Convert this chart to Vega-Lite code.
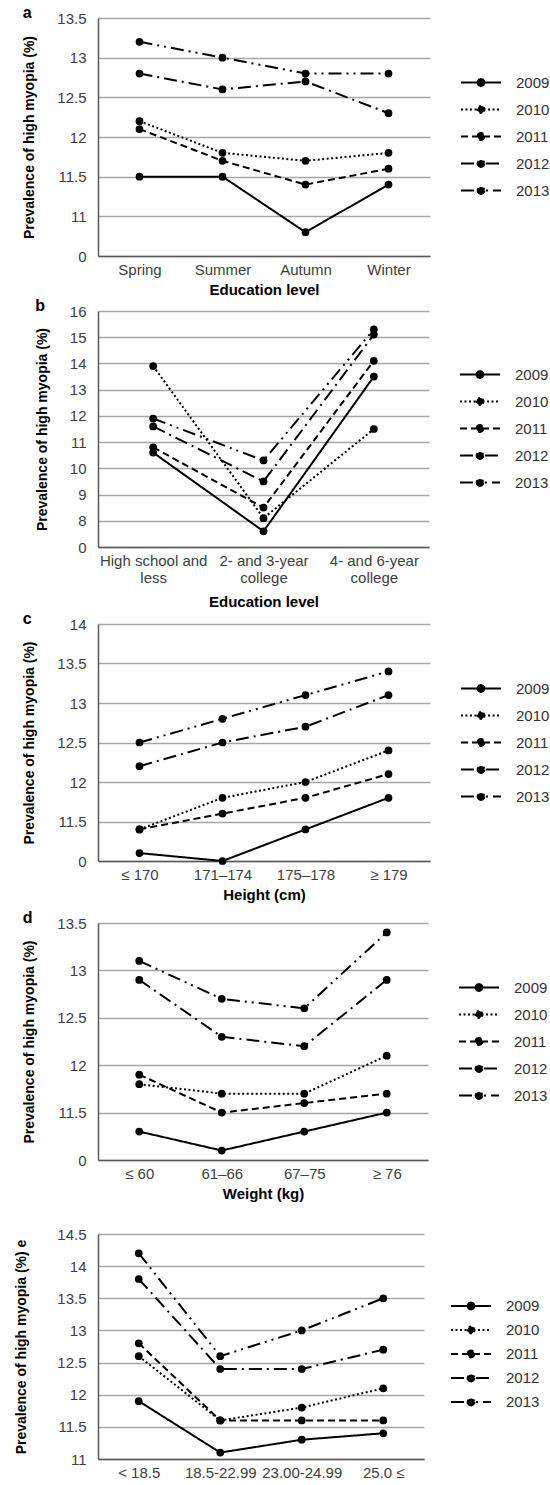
{
  "$schema": "https://vega.github.io/schema/vega-lite/v6.json",
  "padding": {"left": 14, "top": 5, "right": 5, "bottom": 0},
  "spacing": 26,
  "background": "white",
  "datasets": {
    "a": [
      {"cat": "Spring", "year": "2009", "value": 11.5},
      {"cat": "Spring", "year": "2010", "value": 12.2},
      {"cat": "Spring", "year": "2011", "value": 12.1},
      {"cat": "Spring", "year": "2012", "value": 12.8},
      {"cat": "Spring", "year": "2013", "value": 13.2},
      {"cat": "Summer", "year": "2009", "value": 11.5},
      {"cat": "Summer", "year": "2010", "value": 11.8},
      {"cat": "Summer", "year": "2011", "value": 11.7},
      {"cat": "Summer", "year": "2012", "value": 12.6},
      {"cat": "Summer", "year": "2013", "value": 13.0},
      {"cat": "Autumn", "year": "2009", "value": 10.8},
      {"cat": "Autumn", "year": "2010", "value": 11.7},
      {"cat": "Autumn", "year": "2011", "value": 11.4},
      {"cat": "Autumn", "year": "2012", "value": 12.7},
      {"cat": "Autumn", "year": "2013", "value": 12.8},
      {"cat": "Winter", "year": "2009", "value": 11.4},
      {"cat": "Winter", "year": "2010", "value": 11.8},
      {"cat": "Winter", "year": "2011", "value": 11.6},
      {"cat": "Winter", "year": "2012", "value": 12.3},
      {"cat": "Winter", "year": "2013", "value": 12.8}
    ],
    "b": [
      {"cat": "High school and less", "year": "2009", "value": 10.6},
      {"cat": "High school and less", "year": "2010", "value": 13.9},
      {"cat": "High school and less", "year": "2011", "value": 10.8},
      {"cat": "High school and less", "year": "2012", "value": 11.6},
      {"cat": "High school and less", "year": "2013", "value": 11.9},
      {"cat": "2- and 3-year college", "year": "2009", "value": 7.6},
      {"cat": "2- and 3-year college", "year": "2010", "value": 8.1},
      {"cat": "2- and 3-year college", "year": "2011", "value": 8.5},
      {"cat": "2- and 3-year college", "year": "2012", "value": 9.5},
      {"cat": "2- and 3-year college", "year": "2013", "value": 10.3},
      {"cat": "4- and 6-year college", "year": "2009", "value": 13.5},
      {"cat": "4- and 6-year college", "year": "2010", "value": 11.5},
      {"cat": "4- and 6-year college", "year": "2011", "value": 14.1},
      {"cat": "4- and 6-year college", "year": "2012", "value": 15.1},
      {"cat": "4- and 6-year college", "year": "2013", "value": 15.3}
    ],
    "c": [
      {"cat": "≤ 170", "year": "2009", "value": 11.1},
      {"cat": "≤ 170", "year": "2010", "value": 11.4},
      {"cat": "≤ 170", "year": "2011", "value": 11.4},
      {"cat": "≤ 170", "year": "2012", "value": 12.2},
      {"cat": "≤ 170", "year": "2013", "value": 12.5},
      {"cat": "171–174", "year": "2009", "value": 11.0},
      {"cat": "171–174", "year": "2010", "value": 11.8},
      {"cat": "171–174", "year": "2011", "value": 11.6},
      {"cat": "171–174", "year": "2012", "value": 12.5},
      {"cat": "171–174", "year": "2013", "value": 12.8},
      {"cat": "175–178", "year": "2009", "value": 11.4},
      {"cat": "175–178", "year": "2010", "value": 12.0},
      {"cat": "175–178", "year": "2011", "value": 11.8},
      {"cat": "175–178", "year": "2012", "value": 12.7},
      {"cat": "175–178", "year": "2013", "value": 13.1},
      {"cat": "≥ 179", "year": "2009", "value": 11.8},
      {"cat": "≥ 179", "year": "2010", "value": 12.4},
      {"cat": "≥ 179", "year": "2011", "value": 12.1},
      {"cat": "≥ 179", "year": "2012", "value": 13.1},
      {"cat": "≥ 179", "year": "2013", "value": 13.4}
    ],
    "d": [
      {"cat": "≤ 60", "year": "2009", "value": 11.3},
      {"cat": "≤ 60", "year": "2010", "value": 11.8},
      {"cat": "≤ 60", "year": "2011", "value": 11.9},
      {"cat": "≤ 60", "year": "2012", "value": 12.9},
      {"cat": "≤ 60", "year": "2013", "value": 13.1},
      {"cat": "61–66", "year": "2009", "value": 11.1},
      {"cat": "61–66", "year": "2010", "value": 11.7},
      {"cat": "61–66", "year": "2011", "value": 11.5},
      {"cat": "61–66", "year": "2012", "value": 12.3},
      {"cat": "61–66", "year": "2013", "value": 12.7},
      {"cat": "67–75", "year": "2009", "value": 11.3},
      {"cat": "67–75", "year": "2010", "value": 11.7},
      {"cat": "67–75", "year": "2011", "value": 11.6},
      {"cat": "67–75", "year": "2012", "value": 12.2},
      {"cat": "67–75", "year": "2013", "value": 12.6},
      {"cat": "≥ 76", "year": "2009", "value": 11.5},
      {"cat": "≥ 76", "year": "2010", "value": 12.1},
      {"cat": "≥ 76", "year": "2011", "value": 11.7},
      {"cat": "≥ 76", "year": "2012", "value": 12.9},
      {"cat": "≥ 76", "year": "2013", "value": 13.4}
    ],
    "e": [
      {"cat": "< 18.5", "year": "2009", "value": 11.9},
      {"cat": "< 18.5", "year": "2010", "value": 12.6},
      {"cat": "< 18.5", "year": "2011", "value": 12.8},
      {"cat": "< 18.5", "year": "2012", "value": 13.8},
      {"cat": "< 18.5", "year": "2013", "value": 14.2},
      {"cat": "18.5-22.99", "year": "2009", "value": 11.1},
      {"cat": "18.5-22.99", "year": "2010", "value": 11.6},
      {"cat": "18.5-22.99", "year": "2011", "value": 11.6},
      {"cat": "18.5-22.99", "year": "2012", "value": 12.4},
      {"cat": "18.5-22.99", "year": "2013", "value": 12.6},
      {"cat": "23.00-24.99", "year": "2009", "value": 11.3},
      {"cat": "23.00-24.99", "year": "2010", "value": 11.8},
      {"cat": "23.00-24.99", "year": "2011", "value": 11.6},
      {"cat": "23.00-24.99", "year": "2012", "value": 12.4},
      {"cat": "23.00-24.99", "year": "2013", "value": 13.0},
      {"cat": "25.0 ≤", "year": "2009", "value": 11.4},
      {"cat": "25.0 ≤", "year": "2010", "value": 12.1},
      {"cat": "25.0 ≤", "year": "2011", "value": 11.6},
      {"cat": "25.0 ≤", "year": "2012", "value": 12.7},
      {"cat": "25.0 ≤", "year": "2013", "value": 13.5}
    ]
  },
  "resolve": {
    "scale": {"x": "independent", "y": "independent", "strokeDash": "independent"},
    "legend": {"strokeDash": "independent"}
  },
  "vconcat": [
    {
      "spacing": 8,
      "resolve": {"scale": {"x": "independent", "y": "independent", "strokeDash": "independent"}, "legend": {"strokeDash": "independent"}},
      "vconcat": [
        {
          "spacing": 2,
          "resolve": {"scale": {"x": "independent", "y": "independent", "strokeDash": "independent"}, "legend": {"strokeDash": "independent"}},
          "vconcat": [
            {
              "spacing": 1,
              "resolve": {"scale": {"x": "independent", "y": "independent", "strokeDash": "independent"}, "legend": {"strokeDash": "independent"}},
              "vconcat": [
                {
                  "title": {"text": "a"},
                  "width": 332, "height": 238,
                  "data": {"name": "a"},
                  "encoding": {
                    "x": {"field": "cat", "type": "nominal", "sort": ["Spring", "Summer", "Autumn", "Winter"], "scale": {"type": "point", "padding": 0.5}, "axis": {"title": "Education level"}},
                    "y": {"field": "value", "type": "quantitative", "scale": {"domain": [10.5, 13.5], "nice": false, "zero": false}, "axis": {"title": "Prevalence of high myopia (%)", "values": [10.5, 11, 11.5, 12, 12.5, 13, 13.5], "labelExpr": "datum.value == 10.5 ? '0' : '' + datum.value"}}
                  },
                  "layer": [
                    {"mark": {"type": "line", "color": "black", "strokeWidth": 2},
                     "encoding": {"strokeDash": {"field": "year", "type": "nominal", "scale": {"domain": ["2009", "2010", "2011", "2012", "2013"], "range": [[1, 0], [2, 2.5], [7, 4], [13, 5, 2, 5], [13, 5, 2, 5, 2, 5]]}, "legend": {"title": null, "legendX": 362, "legendY": 51, "encode": {"symbols": {"update": {"fill": {"value": "black"}, "stroke": {"value": "black"}}}}}}}},
                    {"mark": {"type": "point", "filled": true, "color": "black", "size": 60, "opacity": 1}}
                  ]
                },
                {
                  "title": {"text": "b"},
                  "width": 331, "height": 236,
                  "data": {"name": "b"},
                  "encoding": {
                    "x": {"field": "cat", "type": "nominal", "sort": ["High school and less", "2- and 3-year college", "4- and 6-year college"], "scale": {"type": "point", "padding": 0.5}, "axis": {"title": "Education level", "titlePadding": 9, "labelExpr": "datum.value == 'High school and less' ? ['High school and', 'less'] : datum.value == '2- and 3-year college' ? ['2- and 3-year', 'college'] : ['4- and 6-year', 'college']"}},
                    "y": {"field": "value", "type": "quantitative", "scale": {"domain": [7, 16], "nice": false, "zero": false}, "axis": {"title": "Prevalence of high myopia (%)", "values": [7, 8, 9, 10, 11, 12, 13, 14, 15, 16], "labelExpr": "datum.value == 7 ? '0' : '' + datum.value"}}
                  },
                  "layer": [
                    {"mark": {"type": "line", "color": "black", "strokeWidth": 2},
                     "encoding": {"strokeDash": {"field": "year", "type": "nominal", "scale": {"domain": ["2009", "2010", "2011", "2012", "2013"], "range": [[1, 0], [2, 2.5], [7, 4], [13, 5, 2, 5], [13, 5, 2, 5, 2, 5]]}, "legend": {"title": null, "legendX": 361, "legendY": 50, "encode": {"symbols": {"update": {"fill": {"value": "black"}, "stroke": {"value": "black"}}}}}}}},
                    {"mark": {"type": "point", "filled": true, "color": "black", "size": 60, "opacity": 1}}
                  ]
                }
              ]
            },
            {
              "title": {"text": "c"},
              "width": 332, "height": 237,
              "data": {"name": "c"},
              "encoding": {
                "x": {"field": "cat", "type": "nominal", "sort": ["≤ 170", "171–174", "175–178", "≥ 179"], "scale": {"type": "point", "padding": 0.5}, "axis": {"title": "Height (cm)"}},
                "y": {"field": "value", "type": "quantitative", "scale": {"domain": [11, 14], "nice": false, "zero": false}, "axis": {"title": "Prevalence of high myopia (%)", "values": [11, 11.5, 12, 12.5, 13, 13.5, 14], "labelExpr": "datum.value == 11 ? '0' : '' + datum.value"}}
              },
              "layer": [
                {"mark": {"type": "line", "color": "black", "strokeWidth": 2},
                 "encoding": {"strokeDash": {"field": "year", "type": "nominal", "scale": {"domain": ["2009", "2010", "2011", "2012", "2013"], "range": [[1, 0], [2, 2.5], [7, 4], [13, 5, 2, 5], [13, 5, 2, 5, 2, 5]]}, "legend": {"title": null, "legendX": 362, "legendY": 51, "encode": {"symbols": {"update": {"fill": {"value": "black"}, "stroke": {"value": "black"}}}}}}}},
                {"mark": {"type": "point", "filled": true, "color": "black", "size": 60, "opacity": 1}}
              ]
            }
          ]
        },
        {
          "title": {"text": "d"},
          "width": 330, "height": 237,
          "data": {"name": "d"},
          "encoding": {
            "x": {"field": "cat", "type": "nominal", "sort": ["≤ 60", "61–66", "67–75", "≥ 76"], "scale": {"type": "point", "padding": 0.5}, "axis": {"title": "Weight (kg)"}},
            "y": {"field": "value", "type": "quantitative", "scale": {"domain": [11, 13.5], "nice": false, "zero": false}, "axis": {"title": "Prevalence of high myopia (%)", "values": [11, 11.5, 12, 12.5, 13, 13.5], "labelExpr": "datum.value == 11 ? '0' : '' + datum.value"}}
          },
          "layer": [
            {"mark": {"type": "line", "color": "black", "strokeWidth": 2},
             "encoding": {"strokeDash": {"field": "year", "type": "nominal", "scale": {"domain": ["2009", "2010", "2011", "2012", "2013"], "range": [[1, 0], [2, 2.5], [7, 4], [13, 5, 2, 5], [13, 5, 2, 5, 2, 5]]}, "legend": {"title": null, "legendX": 360, "legendY": 51, "encode": {"symbols": {"update": {"fill": {"value": "black"}, "stroke": {"value": "black"}}}}}}}},
            {"mark": {"type": "point", "filled": true, "color": "black", "size": 60, "opacity": 1}}
          ]
        }
      ]
    },
    {
      "width": 326, "height": 225,
      "data": {"name": "e"},
      "encoding": {
        "x": {"field": "cat", "type": "nominal", "sort": ["< 18.5", "18.5-22.99", "23.00-24.99", "25.0 ≤"], "scale": {"type": "point", "padding": 0.5}, "axis": {"title": null}},
        "y": {"field": "value", "type": "quantitative", "scale": {"domain": [11, 14.5], "nice": false, "zero": false}, "axis": {"title": "Prevalence of high myopia (%) e", "titlePadding": 28, "values": [11, 11.5, 12, 12.5, 13, 13.5, 14, 14.5], "labelExpr": "'' + datum.value"}}
      },
      "layer": [
        {"mark": {"type": "line", "color": "black", "strokeWidth": 2},
         "encoding": {"strokeDash": {"field": "year", "type": "nominal", "scale": {"domain": ["2009", "2010", "2011", "2012", "2013"], "range": [[1, 0], [2, 2.5], [7, 4], [13, 5, 2, 5], [13, 5, 2, 5, 2, 5]]}, "legend": {"title": null, "legendX": 352, "legendY": 60, "clipHeight": 24, "encode": {"symbols": {"update": {"fill": {"value": "black"}, "stroke": {"value": "black"}}}}}}}},
        {"mark": {"type": "point", "filled": true, "color": "black", "size": 60, "opacity": 1}}
      ]
    }
  ],
  "config": {
    "font": "Liberation Sans",
    "view": {"stroke": null},
    "axis": {"labelFont": "Liberation Sans", "labelFontSize": 15, "labelColor": "#404040", "titleFont": "Liberation Sans", "titleFontSize": 15, "titleFontWeight": "bold", "titleColor": "black", "domainColor": "#595959", "domainWidth": 1.5, "gridColor": "#a6a6a6", "gridWidth": 1.5, "ticks": false},
    "axisX": {"grid": false, "labelAngle": 0, "labelPadding": 6, "titlePadding": 5, "labelLineHeight": 17},
    "axisY": {"labelPadding": 12, "titlePadding": 20, "titleFontSize": 14},
    "legend": {"orient": "none", "labelFont": "Liberation Sans", "labelFontSize": 15, "labelColor": "#333333", "symbolType": "M-1,0L1,0M0.17,0A0.17,0.17,0,1,1,-0.17,0A0.17,0.17,0,1,1,0.17,0Z", "symbolSize": 1600, "symbolStrokeWidth": 2, "symbolStrokeColor": "black", "symbolFillColor": "black", "symbolOpacity": 1, "clipHeight": 27, "rowPadding": 0, "labelOffset": 14},
    "title": {"anchor": "start", "frame": "bounds", "fontSize": 16, "fontWeight": "bold", "font": "Liberation Sans", "color": "black", "offset": -10}
  }
}
